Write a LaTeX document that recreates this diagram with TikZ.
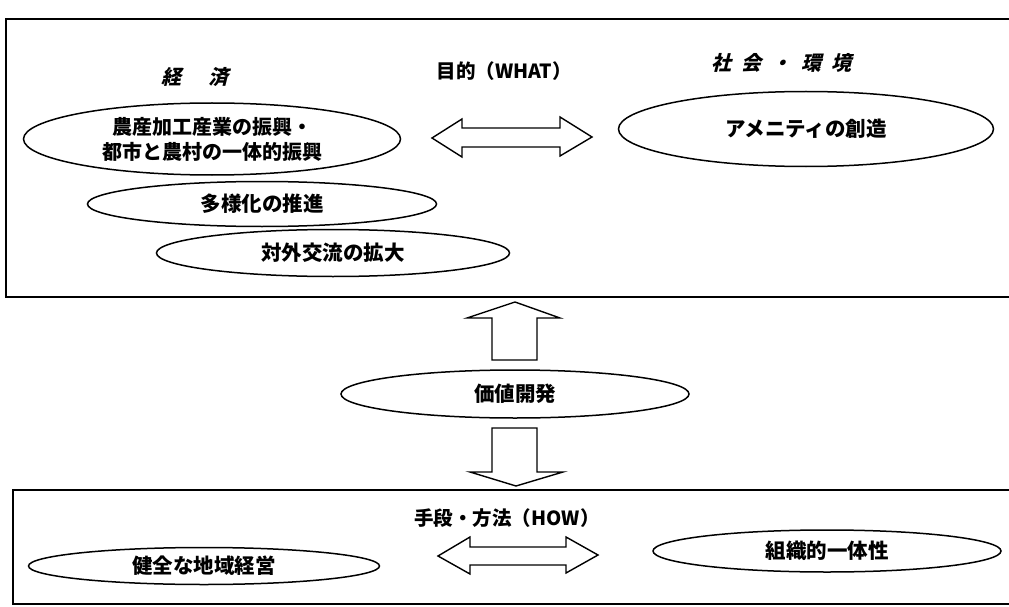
\documentclass[tikz,border=0pt]{standalone}
\usepackage{fontspec}
\setmainfont{Noto Sans CJK JP}
\newfontfamily\cjkit[FakeSlant=0.25]{Noto Sans CJK JP}
\usetikzlibrary{shapes.geometric}
\begin{document}
\begin{tikzpicture}[x=1pt,y=-1pt,
  frame/.style={draw,line width=1.5pt},
  oval/.style={ellipse,draw,line width=1.5pt,inner sep=0pt,font=\bfseries\fontsize{20.5}{25}\selectfont,align=center},
  blk/.style={draw,line width=1.4pt,fill=white,line join=miter},
  lbl/.style={font=\bfseries\fontsize{19.5}{22}\selectfont,inner sep=0pt},
  itl/.style={font=\cjkit\bfseries\fontsize{20}{22}\selectfont,inner sep=0pt}]
\useasboundingbox (0,0) rectangle (1009,607);
% frames
\draw[frame] (6,19) rectangle (1016,297);
\draw[frame] (13,490) rectangle (1016,604);
% headings
\node[itl] (keizai) at (195,77) {経\hspace{1.4em}済};
\node[lbl] (what) at (504,71) {目的（WHAT）};
\node[itl] (shakai) at (781,63) {社\hspace{0.5em}会\hspace{0.5em}・\hspace{0.5em}環\hspace{0.5em}境};
\node[lbl] (how) at (507,518) {手段・方法（HOW）};
% ovals
\node[oval,font=\bfseries\fontsize{20}{25}\selectfont,minimum width=377,minimum height=72] (e1) at (212,139) {農産加工産業の振興・\\都市と農村の一体的振興};
\node[oval,minimum width=349,minimum height=45] (e2) at (262,204) {多様化の推進};
\node[oval,minimum width=353,minimum height=47] (e3) at (333,253) {対外交流の拡大};
\node[oval,minimum width=375,minimum height=75] (e4) at (806,129) {アメニティの創造};
\node[oval,minimum width=348,minimum height=48] (v) at (515,394) {価値開発};
\node[oval,minimum width=351,minimum height=37] (b1) at (204,566) {健全な地域経営};
\node[oval,minimum width=348,minimum height=42] (b2) at (827,551) {組織的一体性};
% top double arrow
\draw[blk] (432,138) -- (462,119) -- (462,128) -- (560,128) -- (560,117) -- (592,137)
  -- (560,156) -- (560,147) -- (462,147) -- (462,157) -- cycle;
% up arrow
\draw[blk] (515,302) -- (560,318) -- (537,318) -- (537,360) -- (492,360) -- (492,318) -- (467,318) -- cycle;
% down arrow
\draw[blk] (492,428) -- (537,428) -- (537,472) -- (563,472) -- (516,486) -- (470,472) -- (492,472) -- cycle;
% bottom double arrow
\draw[blk] (438,556) -- (470,537) -- (470,547) -- (566,547) -- (566,537) -- (598,555)
  -- (566,573) -- (566,565) -- (470,565) -- (470,574) -- cycle;
\end{tikzpicture}
\end{document}
